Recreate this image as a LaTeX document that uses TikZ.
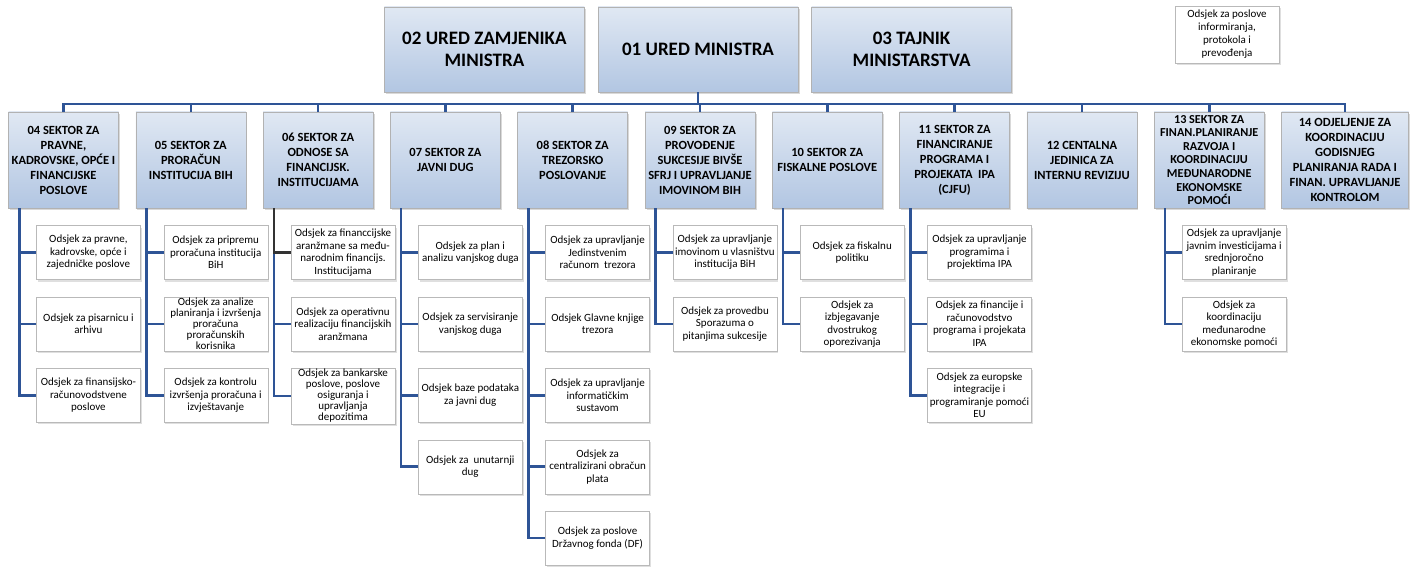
\documentclass[tikz,border=0pt]{standalone}
\usepackage{fontspec}
\setmainfont{Carlito}
\usetikzlibrary{positioning, shadows}

\definecolor{linija}{RGB}{46,84,150}
\definecolor{svijetla}{RGB}{224,232,243}
\definecolor{tamna}{RGB}{178,198,226}

\begin{document}
\begin{tikzpicture}[
            x = 1pt, y = -1pt, % one unit per pixel, y going down
            conn/.style = {draw = linija, line width = 2.6pt}, % connector lines
            node distance = 16.7pt, % gap between sector boxes
            semithick
        ]

        \tikzstyle{ured}=[
            draw = gray!60,
            top color = svijetla,
            bottom color = tamna,
            minimum width = 200pt,
            minimum height = 85pt,
            align = center,
            font = \fontsize{19}{22}\selectfont\bfseries,
            drop shadow = {opacity = 0.3, shadow xshift = 1.5pt, shadow yshift = -2pt}
        ]
        \tikzstyle{sektor}=[
            ured,
            minimum width = 110pt,
            minimum height = 96pt,
            inner sep = 0.5pt,
            font = \fontsize{12.5}{15}\selectfont\bfseries
        ]
        \tikzstyle{odsjek}=[
            draw = gray!55,
            thin,
            fill = white,
            minimum width = 104pt,
            minimum height = 54pt,
            inner sep = 1pt,
            align = center,
            font = \fontsize{11}{12.5}\selectfont,
            drop shadow = {opacity = 0.25, shadow xshift = 1.5pt, shadow yshift = -2pt}
        ]

        \useasboundingbox (0,0) rectangle (1416,567);

        % top offices
        \node[ured] (m01) at (698,49.5) {01 URED MINISTRA};
        \node[ured, left=13pt of m01] (m02) {02 URED ZAMJENIKA\\MINISTRA};
        \node[ured, right=13pt of m01] (m03) {03 TAJNIK\\MINISTARSTVA};
        \node[odsjek, minimum width = 104pt, minimum height = 57pt,
            font = \fontsize{11}{13}\selectfont] (info) at (1227,34.5)
            {Odsjek za poslove\\informiranja,\\protokola i\\prevođenja};

        % sectors
        \node[sektor] (s04) at (63.5,160) {04 SEKTOR ZA\\PRAVNE,\\KADROVSKE, OPĆE I\\FINANCIJSKE\\POSLOVE};
        \node[sektor, right=of s04] (s05) {05 SEKTOR ZA\\PRORAČUN\\INSTITUCIJA BIH};
        \node[sektor, right=of s05] (s06) {06 SEKTOR ZA\\ODNOSE SA\\FINANCIJSK.\\INSTITUCIJAMA};
        \node[sektor, right=of s06] (s07) {07 SEKTOR ZA\\JAVNI DUG};
        \node[sektor, right=of s07] (s08) {08 SEKTOR ZA\\TREZORSKO\\POSLOVANJE};
        \node[sektor, right=of s08] (s09) {09 SEKTOR ZA\\PROVOĐENJE\\SUKCESIJE BIVŠE\\SFRJ I UPRAVLJANJE\\IMOVINOM BIH};
        \node[sektor, right=of s09] (s10) {10 SEKTOR ZA\\FISKALNE POSLOVE};
        \node[sektor, right=of s10] (s11) {11 SEKTOR ZA\\FINANCIRANJE\\PROGRAMA I\\PROJEKATA~~IPA\\(CJFU)};
        \node[sektor, right=of s11] (s12) {12 CENTALNA\\JEDINICA ZA\\INTERNU REVIZIJU};
        \node[sektor, right=of s12, inner sep = 0pt, font = \fontsize{12.2}{13.6}\selectfont\bfseries] (s13)
            {13 SEKTOR ZA\\FINAN.PLANIRANJE\\RAZVOJA I\\KOORDINACIJU\\MEĐUNARODNE\\EKONOMSKE\\POMOĆI};
        \node[sektor, right=of s13, minimum width = 127pt] (s14)
            {14 ODJELJENJE ZA\\KOORDINACIJU\\GODISNJEG\\PLANIRANJA RADA I\\FINAN. UPRAVLJANJE\\KONTROLOM};

        % sections under 04
        \node[odsjek, below right=17pt and 28pt of s04.south west] (o04a) {Odsjek za pravne,\\kadrovske, opće i\\zajedničke poslove};
        \node[odsjek, below=17pt of o04a] (o04b) {Odsjek za pisarnicu i\\arhivu};
        \node[odsjek, below=17pt of o04b] (o04c) {Odsjek za finansijsko-\\računovodstvene\\poslove};

        % sections under 05
        \node[odsjek, below right=17pt and 28pt of s05.south west] (o05a) {Odsjek za pripremu\\proračuna institucija\\BiH};
        \node[odsjek, below=17pt of o05a, font = \fontsize{11}{11}\selectfont] (o05b) {Odsjek za analize\\planiranja i izvršenja\\proračuna\\proračunskih\\korisnika};
        \node[odsjek, below=17pt of o05b] (o05c) {Odsjek za kontrolu\\izvršenja proračuna i\\izvještavanje};

        % sections under 06
        \node[odsjek, below right=17pt and 28pt of s06.south west] (o06a) {Odsjek za financcijske\\aranžmane sa među-\\narodnim financijs.\\Institucijama};
        \node[odsjek, below=17pt of o06a] (o06b) {Odsjek za operativnu\\realizaciju financijskih\\aranžmana};
        \node[odsjek, below=17pt of o06b, font = \fontsize{11}{11}\selectfont] (o06c) {Odsjek za bankarske\\poslove, poslove\\osiguranja i\\upravljanja\\depozitima};

        % sections under 07
        \node[odsjek, below right=17pt and 28pt of s07.south west] (o07a) {Odsjek za plan i\\analizu vanjskog duga};
        \node[odsjek, below=17pt of o07a] (o07b) {Odsjek za servisiranje\\vanjskog duga};
        \node[odsjek, below=17pt of o07b] (o07c) {Odsjek baze podataka\\za javni dug};
        \node[odsjek, below=17pt of o07c] (o07d) {Odsjek za~~unutarnji\\dug};

        % sections under 08
        \node[odsjek, below right=17pt and 28pt of s08.south west] (o08a) {Odsjek za upravljanje\\Jedinstvenim\\računom~~trezora};
        \node[odsjek, below=17pt of o08a] (o08b) {Odsjek Glavne knjige\\trezora};
        \node[odsjek, below=17pt of o08b] (o08c) {Odsjek za upravljanje\\informatičkim\\sustavom};
        \node[odsjek, below=17pt of o08c] (o08d) {Odsjek za\\centralizirani obračun\\plata};
        \node[odsjek, below=17pt of o08d] (o08e) {Odsjek za poslove\\Državnog fonda (DF)};

        % sections under 09
        \node[odsjek, below right=17pt and 28pt of s09.south west] (o09a) {Odsjek za upravljanje\\imovinom u vlasništvu\\institucija BiH};
        \node[odsjek, below=17pt of o09a] (o09b) {Odsjek za provedbu\\Sporazuma o\\pitanjima sukcesije};

        % sections under 10
        \node[odsjek, below right=17pt and 28pt of s10.south west] (o10a) {Odsjek za fiskalnu\\politiku};
        \node[odsjek, below=17pt of o10a] (o10b) {Odsjek za\\izbjegavanje\\dvostrukog\\oporezivanja};

        % sections under 11
        \node[odsjek, below right=17pt and 28pt of s11.south west] (o11a) {Odsjek za upravljanje\\programima i\\projektima IPA};
        \node[odsjek, below=17pt of o11a] (o11b) {Odsjek za financije i\\računovodstvo\\programa i projekata\\IPA};
        \node[odsjek, below=17pt of o11b] (o11c) {Odsjek za europske\\integracije i\\programiranje pomoći\\EU};

        % sections under 13
        \node[odsjek, below right=17pt and 28pt of s13.south west] (o13a) {Odsjek za upravljanje\\javnim investicijama i\\srednjoročno\\planiranje};
        \node[odsjek, below=17pt of o13a] (o13b) {Odsjek za\\koordinaciju\\međunarodne\\ekonomske pomoći};

        % bus line
        \coordinate (bus) at (0,104);
        \draw[conn] (m01.south) -- (m01.south |- bus);
        \draw[conn] (s04.north) -- (s04.north |- bus) -- (s14.north |- bus) -- (s14.north);
        \foreach \s in {05,06,07,08,09,10,11,12,13}
            \draw[conn] (s\s.north |- bus) -- (s\s.north);

        % sector to section lines
        \foreach \s/\k in {04/a,04/b,04/c,05/a,05/b,05/c,06/a,06/b,06/c,
                07/a,07/b,07/c,07/d,08/a,08/b,08/c,08/d,08/e,09/a,09/b,
                10/a,10/b,11/a,11/b,11/c,13/a,13/b}
            \draw[conn] ([xshift=11pt]s\s.south west) |- (o\s\k.west);
        \draw[conn, draw = black!80] ([xshift=11pt]s06.south west) |- (o06a.west);
    \end{tikzpicture}
\end{document}
